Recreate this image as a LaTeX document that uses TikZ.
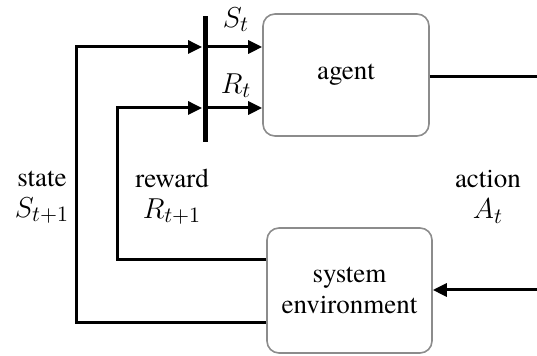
\documentclass[tikz,border=0pt]{standalone}
\usepackage{fontspec}
\setmainfont{texgyretermes-regular.otf}
\usetikzlibrary{arrows.meta}
\newcommand\mathlbl[1]{{\fontsize{15}{17}\selectfont$#1$}}
\begin{document}
\begin{tikzpicture}[
    x=0.5pt, y=-0.5pt,
    block/.style={draw=black!45, line width=0.8pt, rounded corners=6pt,
                  minimum width=83pt, minimum height=61pt,
                  text centered, align=center},
    flow/.style={line width=1.5pt},
    tip/.style={-{Triangle[length=7pt,width=6.5pt]}},
    lbl/.style={align=center, inner sep=0pt},
    font=\fontsize{13.5}{15.5}\selectfont]
    \useasboundingbox (0,0) rectangle (537,356);
    \node[block] (agent) at (346,75)    {agent};
    \node[block, minimum width=82.5pt, minimum height=62.5pt] (env) at (349.5,290.5) {system\\environment};
    \node[fill, inner sep=0pt, minimum width=2.5pt, minimum height=63pt] (bar) at (205,79) {};
    % rows and loop corners
    \coordinate (sRow)    at (0,47);
    \coordinate (rRow)    at (0,108);
    \coordinate (sCorner) at (76,323);
    \coordinate (rCorner) at (117,260);
    \coordinate (aOut)    at (537,77);
    \coordinate (aIn)     at (537,290);
    % feedback into the bar
    \draw[flow, tip] (env.west |- sCorner) -- (sCorner) |- (bar.west |- sRow);
    \draw[flow, tip] (env.west |- rCorner) -- (rCorner) |- (bar.west |- rRow);
    % bar into the agent
    \foreach \r in {sRow, rRow}
        \draw[flow, tip] (bar.east |- \r) -- (agent.west |- \r);
    % action
    \draw[flow] (agent.east |- aOut) -- (aOut);
    \draw[flow, tip] (aIn) -- (env.east |- aIn);
    % labels
    \node[lbl] (sLbl) at (236,20)  {\mathlbl{S_t}};
    \node[lbl] (rLbl) at (236,86)  {\mathlbl{R_t}};
    \node[lbl] (state)  at (42,197)  {state\\\mathlbl{S_{t+1}}};
    \node[lbl] (reward) at (172,197) {reward\\\mathlbl{R_{t+1}}};
    \node[lbl] (action) at (488,197) {action\\\mathlbl{A_t}};
\end{tikzpicture}
\end{document}
